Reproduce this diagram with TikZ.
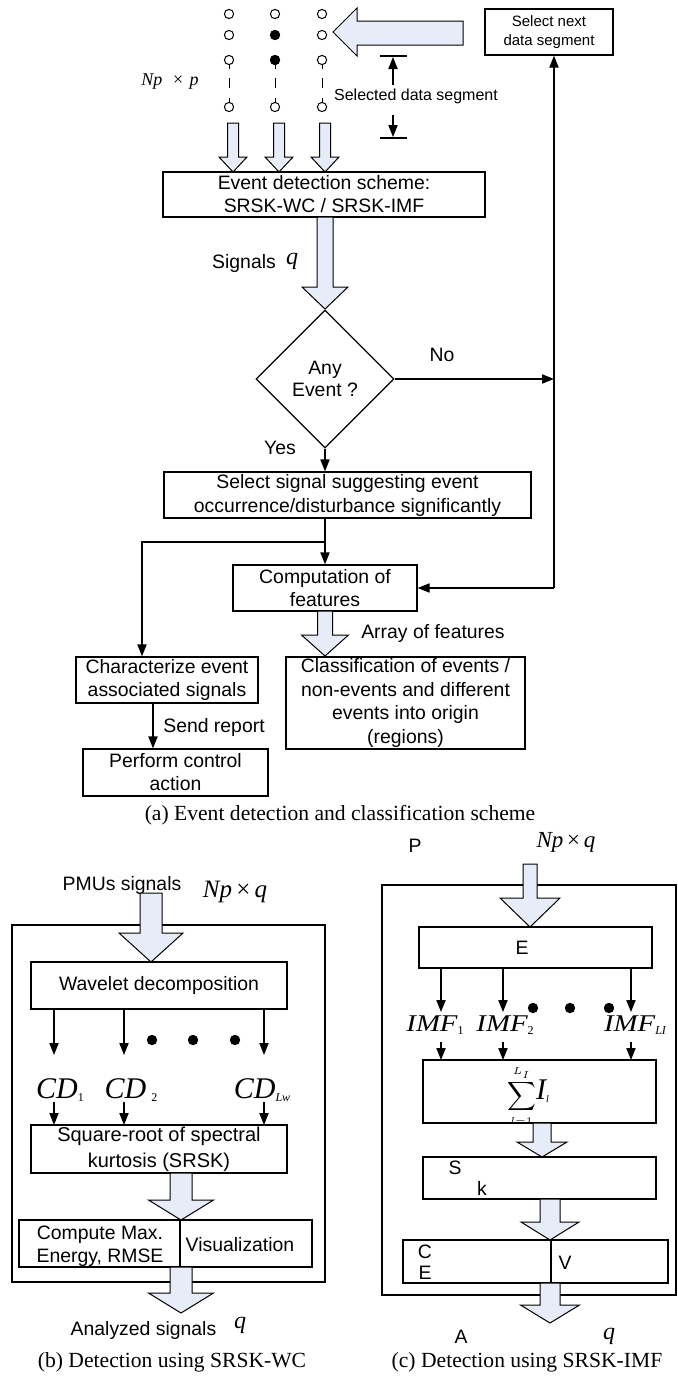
\documentclass[tikz,border=0pt]{standalone}
\usepackage{fontspec}
\setmainfont{Liberation Sans}
\newfontfamily\tnr{Liberation Serif}
\usepackage{graphicx}
\usetikzlibrary{shapes.geometric,arrows.meta}
\definecolor{afill}{RGB}{230,236,248}
\tikzset{
 box/.style={draw, line width=0.6pt, rectangle, inner sep=0pt, align=center, font=\fontsize{9.7}{11.5}\selectfont},
 txt/.style={inner sep=0pt, align=center, font=\fontsize{9.7}{11.5}\selectfont},
 arr/.style={line width=0.6pt, -{Triangle[length=6pt,width=4.6pt]}},
 ln/.style={line width=0.6pt},
 fat/.style={draw, fill=afill, line width=0.5pt, line join=miter},
 captxt/.style={inner sep=0pt, font=\tnr\fontsize{10.8}{12}\selectfont},
 mth/.style={inner sep=0pt, font=\tnr\itshape\fontsize{12}{14}\selectfont},
 ring/.style={draw, fill=white, line width=0.5pt},
 blob/.style={fill=black},
}
\newcommand\fatdown[6]{\draw[fat] (#1-#5,#2) -- (#1+#5,#2) -- (#1+#5,#3) -- (#1+#6,#3) -- (#1,#4) -- (#1-#6,#3) -- (#1-#5,#3) -- cycle;}
\begin{document}
\begin{tikzpicture}[x=0.5pt,y=-0.5pt]
\useasboundingbox (0,0) rectangle (677,1376);

% ---------- (a) ----------
\foreach \x in {229,275,322}{
  \draw[line width=0.5pt, dash pattern=on 2.5pt off 4.5pt on 5pt off 5pt] (\x,64) -- (\x,103);
  \foreach \y in {14,35,60,107}{ \draw[ring] (\x,\y) circle (2.3pt); }
}
\fill[blob] (275,35) circle (2.5pt);
\fill[blob] (275,60) circle (2.5pt);
\node[inner sep=0pt, font=\tnr\fontsize{9}{11}\selectfont] (npp) at (170,82) {\textit{Np}\hspace{0.6em}×\hspace{0.35em}\textit{p}};

\draw[fat] (463,21) -- (357,21) -- (357,8) -- (333,32) -- (357,56) -- (357,45) -- (463,45) -- cycle;

\node[box, minimum width=64pt, minimum height=23pt, font=\fontsize{7.5}{9.5}\selectfont] (next) at (549,32) {Select next\\data segment};

\draw[ln] (380,56) -- (407,56);
\draw[ln] (380,138) -- (407,138);
\node[txt, font=\fontsize{8}{10}\selectfont] (sds) at (416,96) {Selected data segment};
\draw[arr] (393,85) -- (393,57);
\draw[arr] (393,115) -- (393,137);

\fatdown{233}{123}{157}{172}{5.5}{14}
\fatdown{279}{123}{157}{172}{5.5}{14}
\fatdown{325}{123}{157}{172}{5.5}{14}

\node[box, minimum width=161pt, minimum height=22.5pt] (evt) at (324,194.5) {Event detection scheme:\\SRSK-WC / SRSK-IMF};

\fatdown{325}{217}{287}{309}{8}{23}
\node[txt] at (244,263) {Signals};
\node[mth] at (292,261) {q};

\node[draw, diamond, aspect=1, minimum width=69pt, minimum height=69pt, inner sep=0pt, line width=0.6pt, align=center, font=\fontsize{9.7}{11}\selectfont] (dia) at (325,379) {Any\\Event ?};

\node[box, minimum width=183.5pt, minimum height=23pt, font=\fontsize{9.7}{12}\selectfont] (sel) at (347.5,495) {Select signal suggesting event\\occurrence/disturbance significantly};
\node[box, minimum width=92pt, minimum height=23pt] (comp) at (325,588) {Computation of\\features};
\node[box, minimum width=91pt, minimum height=23pt] (char) at (167,680) {Characterize event\\associated signals};
\node[box, minimum width=119.5pt, minimum height=46pt, font=\fontsize{9.7}{11.7}\selectfont] (cls) at (405.5,703) {Classification of events /\\non-events and different\\events into origin\\(regions)};
\node[box, minimum width=92.5pt, minimum height=23.5pt] (perf) at (175.5,772.5) {Perform control\\action};

\coordinate (R) at (554,588);
\draw[ln] (R) -- (R |- dia.east);
\draw[arr] (R |- dia.east) -- (R |- next.south);
\draw[arr] (dia.east) -- (R |- dia.east);
\node[txt] at (442,355) {No};
\draw[arr] (dia.south) -- (dia.south |- sel.north);
\node[txt] at (280,448) {Yes};
\coordinate (J) at (325,542);
\coordinate (K) at (142,542);
\draw[arr] (J |- sel.south) -- (comp.north);
\draw[arr] (J) -- (K) -- (K |- char.north);
\draw[arr] (R) -- (comp.east);
\fatdown{325}{611}{635}{656}{7.5}{23.5}
\node[txt] at (433,633) {Array of features};
\coordinate (sr) at (153,0);
\draw[arr] (sr |- char.south) -- (sr |- perf.north);
\node[txt] at (214,727) {Send report};

\node[captxt] at (340,815) {(a) Event detection and classification scheme};

% ---------- (b) ----------
\node[draw, ln, minimum width=156.5pt, minimum height=178.5pt, inner sep=0pt] (fb) at (168.5,1103.5) {};
\node[txt] at (122,885) {PMUs signals};
\node[mth, font=\tnr\fontsize{12.5}{14}\selectfont] at (235,892) {\textit{Np}\,×\,\textit{q}};
\fatdown{151}{893}{933}{962}{11}{32}
\node[box, minimum width=128pt, minimum height=23.5pt] (wav) at (159,985.5) {Wavelet decomposition};
\foreach \x in {54,124,264}{
  \draw[arr] (\x,1009) -- (\x,1055);
  \draw[arr] (\x,1102) -- (\x,1125);
}
\foreach \x in {152,193,235}{ \fill[blob] (\x,1040) circle (2.6pt); }
\node[inner sep=0pt, font=\tnr\itshape\fontsize{15}{16}\selectfont] at (60,1090) {CD\raisebox{-0.1em}{\upshape\fontsize{6}{6}\selectfont 1}};
\node[inner sep=0pt, font=\tnr\itshape\fontsize{15}{16}\selectfont] at (131,1090) {CD\,\raisebox{-0.1em}{\upshape\fontsize{6}{6}\selectfont 2}};
\node[inner sep=0pt, font=\tnr\itshape\fontsize{15}{16}\selectfont] at (262,1090) {CD\raisebox{-0.1em}{\fontsize{6}{6}\selectfont Lw}};
\node[box, minimum width=128pt, minimum height=24pt, font=\fontsize{10}{13}\selectfont] (srsk) at (159,1149) {Square-root of spectral\\kurtosis (SRSK)};
\fatdown{181}{1173}{1200}{1220}{11}{32.5}
\node[box, minimum width=146.5pt, minimum height=23.5pt] (compb) at (165.5,1243.5) {};
\draw[ln] (180,1220) -- (180,1267);
\node[txt] at (100,1246) {Compute Max.\\Energy, RMSE};
\node[txt] at (240,1245) {Visualization};
\fatdown{181}{1267}{1293}{1313}{11}{32.5}
\node[txt] at (143.5,1330) {Analyzed signals};
\node[mth] at (240,1325) {q};
\node[captxt] at (172,1362) {(b) Detection using SRSK-WC};

% ---------- (c) ----------
\node[draw, ln, minimum width=147pt, minimum height=205pt, inner sep=0pt] (fc) at (529,1090) {};
\node[txt] at (415,846) {P};
\node[mth, font=\tnr\fontsize{11.5}{14}\selectfont] at (566,842) {\textit{Np}\,×\,\textit{q}};
\fatdown{530}{864}{898}{927}{7}{30}
\node[box, minimum width=116.5pt, minimum height=20.5pt] (ebox) at (535.5,947.5) {};
\node[txt] at (522,948) {E};
\foreach \x in {441,503,631}{
  \draw[arr] (\x,968) -- (\x,1012);
  \draw[arr] (\x,1042) -- (\x,1060);
}
\foreach \x in {533,570,609}{ \fill[blob] (\x,1008) circle (2.6pt); }
\node[inner sep=0pt, font=\tnr\itshape\fontsize{12}{14}\selectfont] at (435,1025) {\scalebox{1.2}[1]{IMF}\raisebox{-0.1em}{\upshape\fontsize{6}{6}\selectfont 1}};
\node[inner sep=0pt, font=\tnr\itshape\fontsize{12}{14}\selectfont] at (505,1025) {\scalebox{1.2}[1]{IMF}\raisebox{-0.1em}{\upshape\fontsize{6}{6}\selectfont 2}};
\node[inner sep=0pt, font=\tnr\itshape\fontsize{12}{14}\selectfont] at (635,1025) {\scalebox{1.2}[1]{IMF}\raisebox{-0.1em}{\fontsize{6}{6}\selectfont LI}};
\node[box, minimum width=116.5pt, minimum height=31.5pt] (sum) at (539.5,1091.5) {};
\node[inner sep=0pt, font=\fontsize{7.5}{9}\selectfont] at (528,1096) {$\displaystyle\sum_{l=1}^{L_I}$\mbox{\tnr\itshape\fontsize{15}{15}\selectfont I}\raisebox{-0.2em}{\tnr\itshape\fontsize{5}{5}\selectfont l}};
\fatdown{542}{1123}{1142}{1157}{9}{25}
\node[box, minimum width=116.5pt, minimum height=21pt] (sbox) at (539.5,1178) {};
\node[txt] at (455,1168) {S};
\node[txt] at (482,1188) {k};
\fatdown{550}{1199}{1222}{1240}{10}{29}
\node[box, minimum width=132.5pt, minimum height=21.5pt] (cv) at (535.5,1261.5) {};
\draw[ln] (551,1240) -- (551,1283);
\node[txt] at (425,1252) {C};
\node[txt] at (425,1273) {E};
\node[txt] at (565,1263) {V};
\fatdown{550}{1283}{1305}{1323}{10}{29.5}
\node[txt] at (461,1337) {A};
\node[mth] at (609,1336) {q};
\node[captxt] at (527,1362) {(c) Detection using SRSK-IMF};
\end{tikzpicture}
\end{document}
